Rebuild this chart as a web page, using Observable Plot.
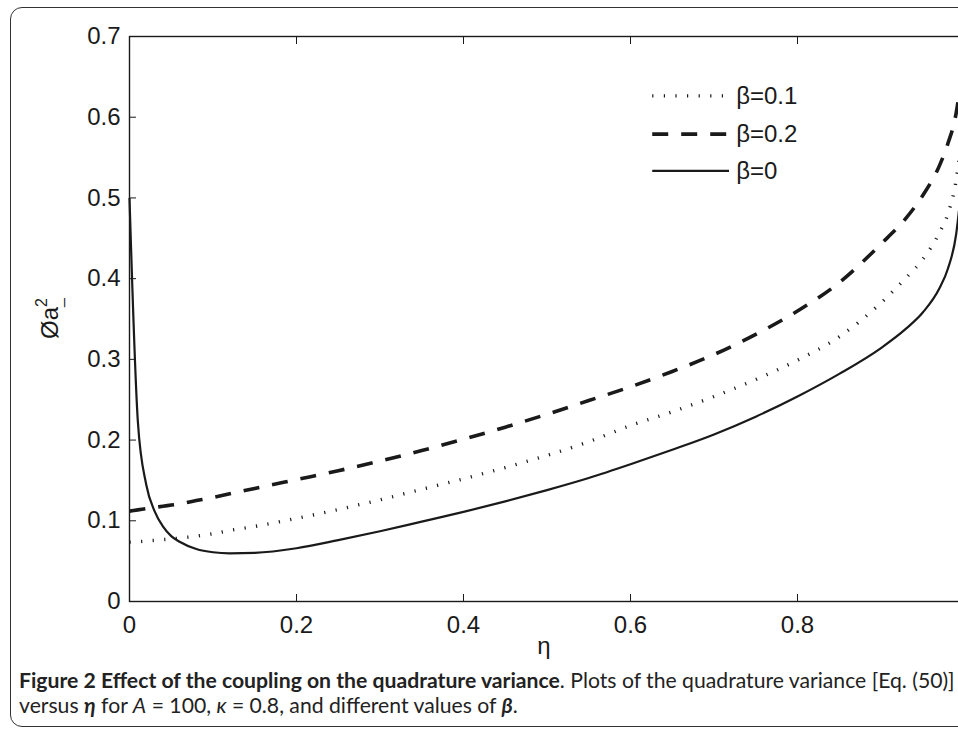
<!DOCTYPE html>
<html>
<head>
<meta charset="utf-8">
<script src="https://cdn.jsdelivr.net/npm/d3@7"></script>
<script src="https://cdn.jsdelivr.net/npm/@observablehq/plot@0.6"></script>
<style>
  html, body { margin: 0; padding: 0; background: #fff; }
  #page { position: relative; width: 958px; height: 739px; overflow: hidden; background: #fff; }
  #border { position: absolute; left: 10px; top: 7px; width: 1000px; height: 720px; border: 1.6px solid #333; border-radius: 12px; box-sizing: border-box; }
  #chart { position: absolute; left: 0; top: 0; width: 1000px; height: 680px; }
  #chart svg { max-width: none !important; }
  #caption { position: absolute; left: 19px; top: 668px; font-family: Lato, "Open Sans", sans-serif; color: #222; line-height: 25px; white-space: nowrap; }
  #caption b { font-weight: 700; }
</style>
</head>
<body>
<div id="page">
  <div id="border"></div>
  <div id="chart"></div>
  <div id="caption">
    <div id="cap1"><b>Figure 2 Effect of the coupling on the quadrature variance</b>. Plots of the quadrature variance [Eq. (50)]</div>
    <div id="cap2">versus <b><i>η</i></b> for <i>A</i> = 100, <i>κ</i> = 0.8, and different values of <b><i>β</i></b>.</div>
  </div>
</div>
<script>
// ---- data ----
const eta = [0, 0.01, 0.02, 0.03, 0.04, 0.05, 0.06, 0.08, 0.10, 0.12, 0.15, 0.20, 0.25, 0.30, 0.35, 0.40, 0.45, 0.50, 0.55, 0.60, 0.65, 0.70, 0.75, 0.80, 0.85, 0.90, 0.93, 0.95, 0.97, 0.98, 0.99, 0.995];
const varBeta0  = [0.500, 0.223, 0.145, 0.112, 0.093, 0.081, 0.074, 0.065, 0.0610, 0.0597, 0.0603, 0.066, 0.076, 0.087, 0.099, 0.111, 0.124, 0.138, 0.153, 0.170, 0.188, 0.207, 0.229, 0.254, 0.282, 0.314, 0.338, 0.358, 0.388, 0.412, 0.455, 0.500];
const varBeta01 = [0.0735, 0.074, 0.075, 0.0758, 0.0766, 0.0775, 0.0785, 0.081, 0.084, 0.088, 0.093, 0.103, 0.114, 0.126, 0.139, 0.152, 0.166, 0.181, 0.198, 0.218, 0.235, 0.254, 0.275, 0.299, 0.328, 0.370, 0.401, 0.424, 0.457, 0.480, 0.522, 0.560];
const varBeta02 = [0.112, 0.1135, 0.115, 0.1165, 0.118, 0.1195, 0.121, 0.125, 0.129, 0.1335, 0.140, 0.151, 0.162, 0.174, 0.187, 0.201, 0.216, 0.232, 0.249, 0.266, 0.285, 0.306, 0.331, 0.360, 0.395, 0.443, 0.475, 0.503, 0.540, 0.567, 0.605, 0.640];
const seriesLabels = ["β=0.1", "β=0.2", "β=0"];
const xTickValues = [0, 0.2, 0.4, 0.6, 0.8, 1.0];
const xTickLabels = [0, 0.2, 0.4, 0.6, 0.8];
const yTickValues = [0, 0.1, 0.2, 0.3, 0.4, 0.5, 0.6, 0.7];

const toRows = (ys) => eta.map((x, i) => ({x, y: ys[i]}));
const ink = "#1a1a1a";
const styles = {
  "β=0.1": {strokeWidth: 3.4, strokeDasharray: "1.2,10.4"},
  "β=0.2": {strokeWidth: 3.6, strokeDasharray: "16,13"},
  "β=0":   {strokeWidth: 2.2, strokeDasharray: null}
};
const seriesData = {"β=0.1": toRows(varBeta01), "β=0.2": toRows(varBeta02), "β=0": toRows(varBeta0)};

// legend layout (data-space anchor of the legend box)
const legX0 = 0.626, legX1 = 0.718, legTextX = 0.7265;
const legYs = [0.6265, 0.579, 0.5335];
const legendRows = seriesLabels.map((label, i) => ({label, y: legYs[i]}));

const font = "'Liberation Sans', Arial, Helvetica, sans-serif";

const marks = [
  Plot.frame({stroke: ink, strokeWidth: 1.4}),
  Plot.axisX(xTickValues, {anchor: "bottom", tickSize: -7, tickFormat: () => "", label: null, stroke: ink}),
  Plot.axisX(xTickValues, {anchor: "top", tickSize: -7, tickFormat: () => "", label: null, stroke: ink}),
  Plot.axisY(yTickValues, {anchor: "left", tickSize: -7, tickFormat: () => "", label: null, stroke: ink}),
  Plot.axisY(yTickValues, {anchor: "right", tickSize: -7, tickFormat: () => "", label: null, stroke: ink}),
  Plot.axisX(xTickLabels, {anchor: "bottom", tickSize: 0, tickPadding: 14, label: null, tickFormat: d => d === 0 ? "0" : d3.format(".1f")(d), fill: ink}),
  Plot.axisY(yTickValues, {anchor: "left", tickSize: 0, tickPadding: 9, label: null, tickFormat: d => d === 0 ? "0" : d3.format(".1f")(d), fill: ink}),
  Plot.text(["η"], {frameAnchor: "bottom", dx: -3, dy: 52, fontSize: 24, fill: ink})
];
for (const s of seriesLabels) {
  marks.push(Plot.line(seriesData[s], {x: "x", y: "y", curve: "monotone-x", stroke: ink, strokeLinecap: "butt", ...styles[s]}));
}
for (const r of legendRows) {
  marks.push(Plot.line([{x: legX0, y: r.y}, {x: legX1, y: r.y}], {x: "x", y: "y", stroke: ink, strokeLinecap: "butt", ...styles[r.label]}));
}
marks.push(Plot.text(legendRows, {x: () => legTextX, y: "y", text: "label", textAnchor: "start", fontSize: 24, fill: ink}));

const chart = Plot.plot({
  width: 1000,
  height: 680,
  marginLeft: 129,
  marginRight: 36,
  marginTop: 36,
  marginBottom: 79,
  x: {domain: [0, 1]},
  y: {domain: [0, 0.7]},
  style: {fontFamily: font, fontSize: "24px", color: ink, background: "transparent", overflow: "visible", maxWidth: "none"},
  marks
});
chart.style.maxWidth = "none";
chart.setAttribute("width", 1000);
chart.setAttribute("height", 680);
document.getElementById("chart").appendChild(chart);

// y-axis label: Øa with stacked super/subscript
const svg = d3.select(chart);
const yl = svg.append("text")
  .attr("transform", "translate(57,339) rotate(-90)")
  .attr("font-family", font).attr("font-size", 24).attr("fill", ink);
yl.append("tspan").text("Øa");
yl.append("tspan").attr("font-size", 16).attr("dy", -11).text("2");
yl.append("tspan").attr("font-size", 16).attr("dx", -9).attr("dy", 15).text("_");
// centre the label on the reference position
{
  const sr = chart.getBoundingClientRect();
  const r = yl.node().getBoundingClientRect();
  const cx = r.left - sr.left + r.width / 2, cy = r.top - sr.top + r.height / 2;
  const tx = 57 + (49 - cx), ty = 339 + (318 - cy);
  yl.attr("transform", `translate(${tx},${ty}) rotate(-90)`);
}

// fit caption line 1 to the reference width
const cap = document.getElementById("caption");
let fs = 17;
cap.style.fontSize = fs + "px";
const target = 936;
const span = document.getElementById("cap1");
span.style.display = "inline-block";
const w = span.getBoundingClientRect().width;
fs = fs * target / w;
cap.style.fontSize = fs.toFixed(2) + "px";
</script>
</body>
</html>
